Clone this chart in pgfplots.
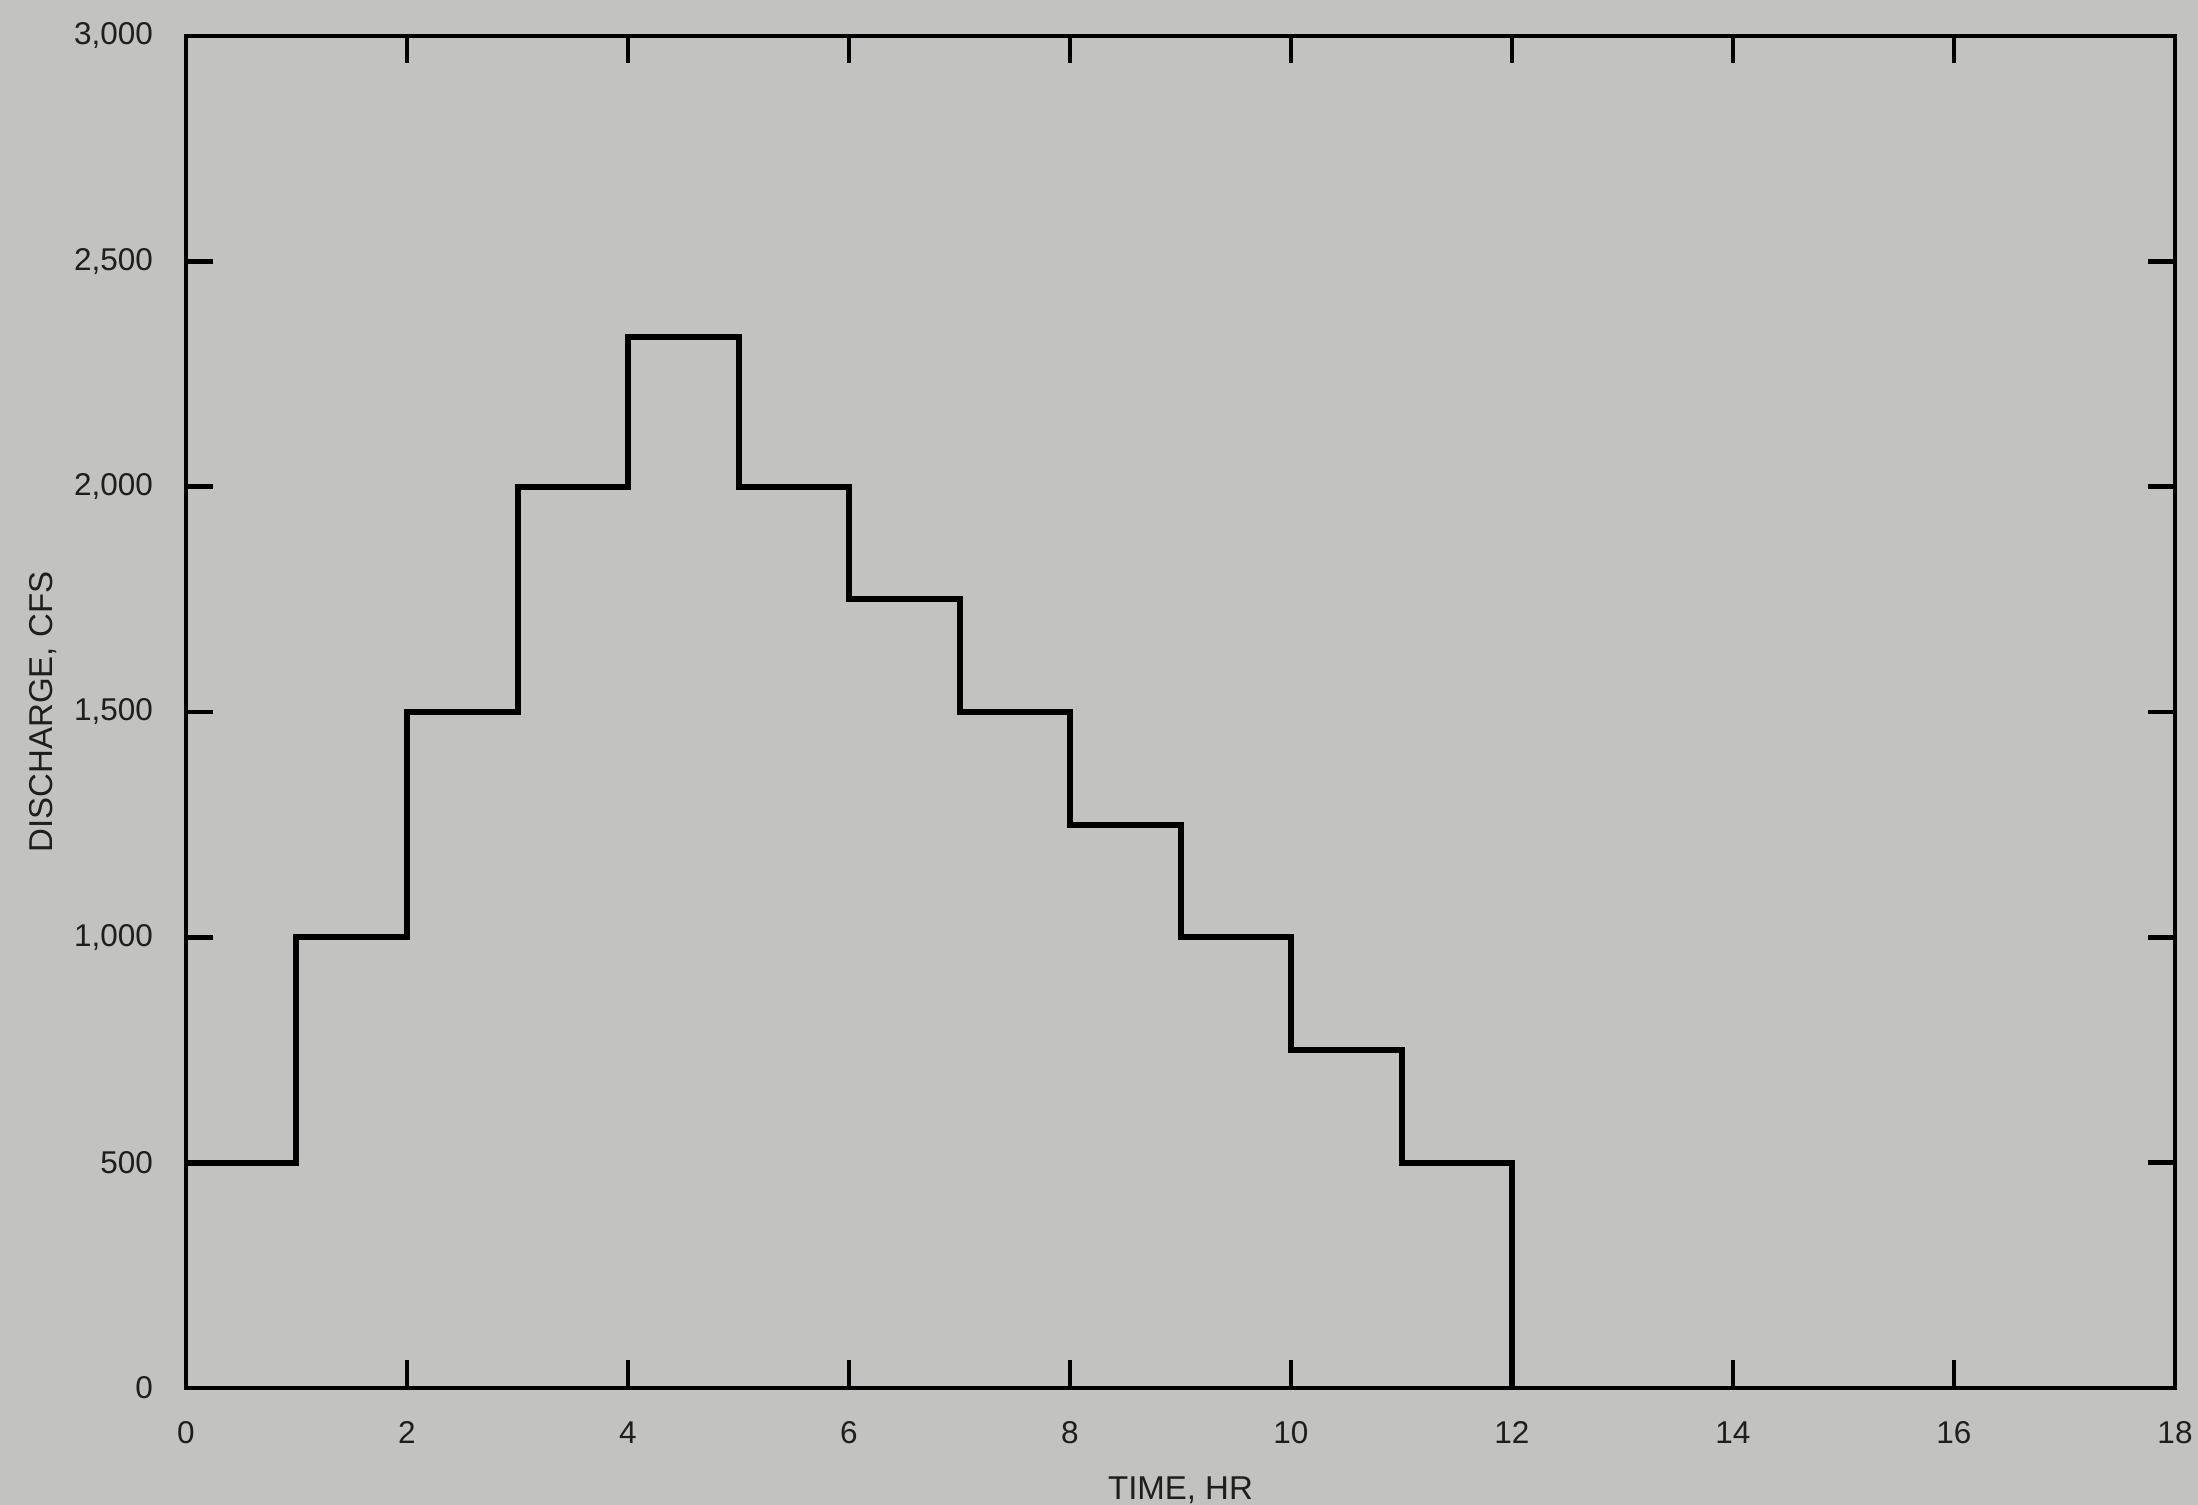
\documentclass[border=0pt]{standalone}
\usepackage{fontspec}
\setmainfont{Liberation Sans}
\usepackage{pgfplots}
\pgfplotsset{compat=1.18}
\usetikzlibrary{backgrounds}
\definecolor{paper}{RGB}{194,194,192}
\definecolor{ink}{RGB}{30,30,30}

% hydrograph (step) values, cfs per hour
\pgfplotstableread{
t    q
0    500
1    1000
2    1500
3    2000
4    2333
5    2000
6    1750
7    1500
8    1250
9    1000
10   750
11   500
12   0
}\hydro

\begin{document}
\begin{tikzpicture}
\begin{axis}[
    scale only axis,
    width=397.8pt,
    height=270.4pt,
    xmin=0, xmax=18,
    ymin=0, ymax=3000,
    xtick={0,2,...,18},
    ytick={0,500,...,3000},
    tick align=inside,
    major tick length=5.5pt,
    every tick/.style={line width=0.9pt, black},
    axis line style={line width=0.9pt, black},
    /pgf/number format/assume math mode=true,
    /pgf/number format/1000 sep={,},
    scaled y ticks=false,
    xticklabel pos=lower,
    yticklabel pos=left,
    tick label style={font=\fontsize{6.3pt}{7pt}\selectfont, text=ink, inner sep=0pt},
    xticklabel style={anchor=center, yshift=-9pt},
    yticklabel style={anchor=east, xshift=-6.4pt},
    label style={font=\fontsize{6.6pt}{7.5pt}\selectfont, text=ink, inner sep=0pt},
    xlabel={TIME, HR},
    ylabel={DISCHARGE, CFS},
    xlabel style={at={(axis description cs:0.5,-0.0755)}, anchor=center},
    ylabel style={at={(axis description cs:-0.0719,0.5)}, anchor=center},
    ]
\addplot[const plot mark left, line width=1.2pt, black] table[x=t, y=q] {\hydro};
\end{axis}
\begin{pgfonlayer}{background}
\fill[paper] ([shift={(-37.2pt,-23.4pt)}]current axis.south west) rectangle ([shift={(4.6pt,7.2pt)}]current axis.north east);
\end{pgfonlayer}
\useasboundingbox ([shift={(-37.2pt,-23.4pt)}]current axis.south west) rectangle ([shift={(4.6pt,7.2pt)}]current axis.north east);
\end{tikzpicture}
\end{document}
